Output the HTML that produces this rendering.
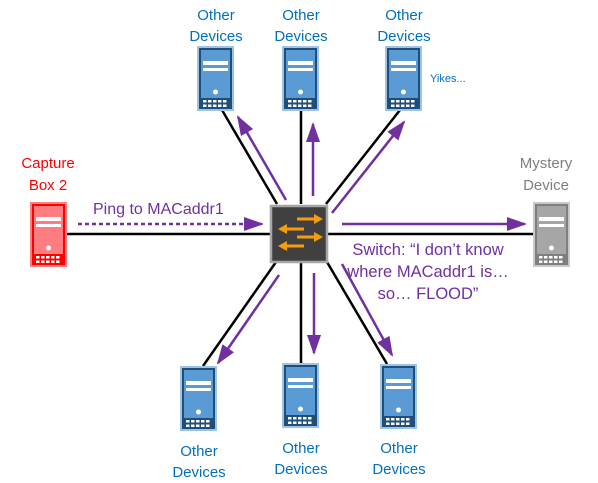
<!DOCTYPE html>
<html><head><meta charset="utf-8"><style>
html,body{margin:0;padding:0;background:#fff;}
svg{display:block;}
text{font-family:"Liberation Sans",sans-serif;}
</style></head><body>
<svg width="598" height="483" viewBox="0 0 598 483" xmlns="http://www.w3.org/2000/svg">
<defs>
<marker id="ah" viewBox="0 0 10 10" refX="9" refY="5" markerWidth="8" markerHeight="5.6" orient="auto" markerUnits="strokeWidth" preserveAspectRatio="none">
<path d="M0,0 L10,5 L0,10 z" fill="#7030a0"/></marker>
<g id="grid">
<rect x="6" y="54" width="3.5" height="2.5" fill="#fff"/><rect x="11" y="54" width="3.5" height="2.5" fill="#fff"/><rect x="16" y="54" width="3.5" height="2.5" fill="#fff"/><rect x="21" y="54" width="3.5" height="2.5" fill="#fff"/><rect x="26" y="54" width="3.5" height="2.5" fill="#fff"/>
<rect x="6" y="58.5" width="3.5" height="2.5" fill="#fff"/><rect x="11" y="58.5" width="3.5" height="2.5" fill="#fff"/><rect x="16" y="58.5" width="3.5" height="2.5" fill="#fff"/><rect x="21" y="58.5" width="3.5" height="2.5" fill="#fff"/><rect x="26" y="58.5" width="3.5" height="2.5" fill="#fff"/>
</g>
<g id="blue">
<rect x="0" y="0" width="37" height="65" fill="#9dc3e6"/>
<rect x="2" y="2" width="33" height="61" fill="#1f4e79"/>
<rect x="4" y="4" width="29" height="48" fill="#5b9bd5"/>
<rect x="6" y="15" width="25" height="4" fill="#fff"/><rect x="6" y="22" width="25" height="3" fill="#fff"/>
<circle cx="18.5" cy="46" r="2.5" fill="#fff"/>
<use href="#grid"/>
</g>
<g id="red">
<rect x="0" y="0" width="37" height="65" fill="#ff8080"/>
<rect x="2" y="2" width="33" height="61" fill="#ff0000"/>
<rect x="4" y="4" width="29" height="48" fill="#ff7c80"/>
<rect x="6" y="15" width="25" height="4" fill="#fff"/><rect x="6" y="22" width="25" height="3" fill="#fff"/>
<circle cx="18.5" cy="46" r="2.5" fill="#fff"/>
<use href="#grid"/>
</g>
<g id="gray">
<rect x="0" y="0" width="37" height="65" fill="#c9c9c9"/>
<rect x="2" y="2" width="33" height="61" fill="#7f7f7f"/>
<rect x="4" y="4" width="29" height="48" fill="#a6a6a6"/>
<rect x="6" y="15" width="25" height="4" fill="#fff"/><rect x="6" y="22" width="25" height="3" fill="#fff"/>
<circle cx="18.5" cy="46" r="2.5" fill="#fff"/>
<use href="#grid"/>
</g>
</defs>

<g stroke="#000" stroke-width="2.5">
<line x1="67" y1="234" x2="271" y2="234"/>
<line x1="327" y1="234" x2="533" y2="234"/>
<line x1="222" y1="110" x2="277" y2="204"/>
<line x1="301" y1="110" x2="301" y2="204"/>
<line x1="400" y1="110" x2="326" y2="204"/>
<line x1="203" y1="366" x2="276" y2="262"/>
<line x1="301" y1="262" x2="301" y2="364"/>
<line x1="327" y1="262" x2="387" y2="364"/>
</g>

<g stroke="#7030a0" stroke-width="2.5" fill="none" marker-end="url(#ah)">
<line x1="78" y1="224" x2="262" y2="224" stroke-dasharray="4,3"/>
<line x1="286" y1="200" x2="238" y2="117"/>
<line x1="313" y1="196" x2="313" y2="124"/>
<line x1="332" y1="213" x2="404" y2="122"/>
<line x1="342" y1="224" x2="525" y2="224"/>
<line x1="279" y1="275" x2="218" y2="363"/>
<line x1="314" y1="273" x2="314" y2="353"/>
<line x1="342" y1="264" x2="392" y2="355"/>
</g>

<rect x="271" y="206" width="56" height="56" fill="#404040" stroke="#a6a6a6" stroke-width="2.5"/>
<g stroke="#f59d0e" stroke-width="3" fill="#f59d0e">
<line x1="297" y1="219" x2="315" y2="219"/><path d="M314,214 L323,219 L314,224z" stroke="none"/>
<line x1="286" y1="229" x2="304" y2="229"/><path d="M287,224 L278,229 L287,234z" stroke="none"/>
<line x1="297" y1="237" x2="315" y2="237"/><path d="M314,232 L323,237 L314,242z" stroke="none"/>
<line x1="286" y1="246" x2="304" y2="246"/><path d="M287,241 L278,246 L287,251z" stroke="none"/>
</g>

<use href="#blue" x="197" y="46"/>
<use href="#blue" x="282" y="46"/>
<use href="#blue" x="385" y="46"/>
<use href="#blue" x="180" y="366"/>
<use href="#blue" x="282" y="363"/>
<use href="#blue" x="380" y="364"/>
<use href="#red" x="30" y="202"/>
<use href="#gray" x="533" y="202"/>

<g font-size="15" fill="#0070c0" text-anchor="middle">
<text x="216" y="20">Other</text><text x="216" y="41">Devices</text>
<text x="301" y="20">Other</text><text x="301" y="41">Devices</text>
<text x="404" y="20">Other</text><text x="404" y="41">Devices</text>
<text x="199" y="456">Other</text><text x="199" y="477">Devices</text>
<text x="301" y="453">Other</text><text x="301" y="474">Devices</text>
<text x="399" y="453">Other</text><text x="399" y="474">Devices</text>
</g>
<text x="430" y="82" font-size="11" fill="#0070c0">Yikes...</text>
<g font-size="15" fill="#ff0000" text-anchor="middle">
<text x="48" y="168">Capture</text><text x="48" y="190">Box 2</text>
</g>
<g font-size="15" fill="#7f7f7f" text-anchor="middle">
<text x="546" y="168">Mystery</text><text x="546" y="190">Device</text>
</g>
<text x="93" y="214" font-size="16" fill="#7030a0">Ping to MACaddr1</text>
<g font-size="16.5" fill="#7030a0" text-anchor="middle">
<text x="428" y="255">Switch: “I don’t know</text>
<text x="428" y="277">where MACaddr1 is…</text>
<text x="428" y="299">so… FLOOD”</text>
</g>
</svg>
</body></html>
